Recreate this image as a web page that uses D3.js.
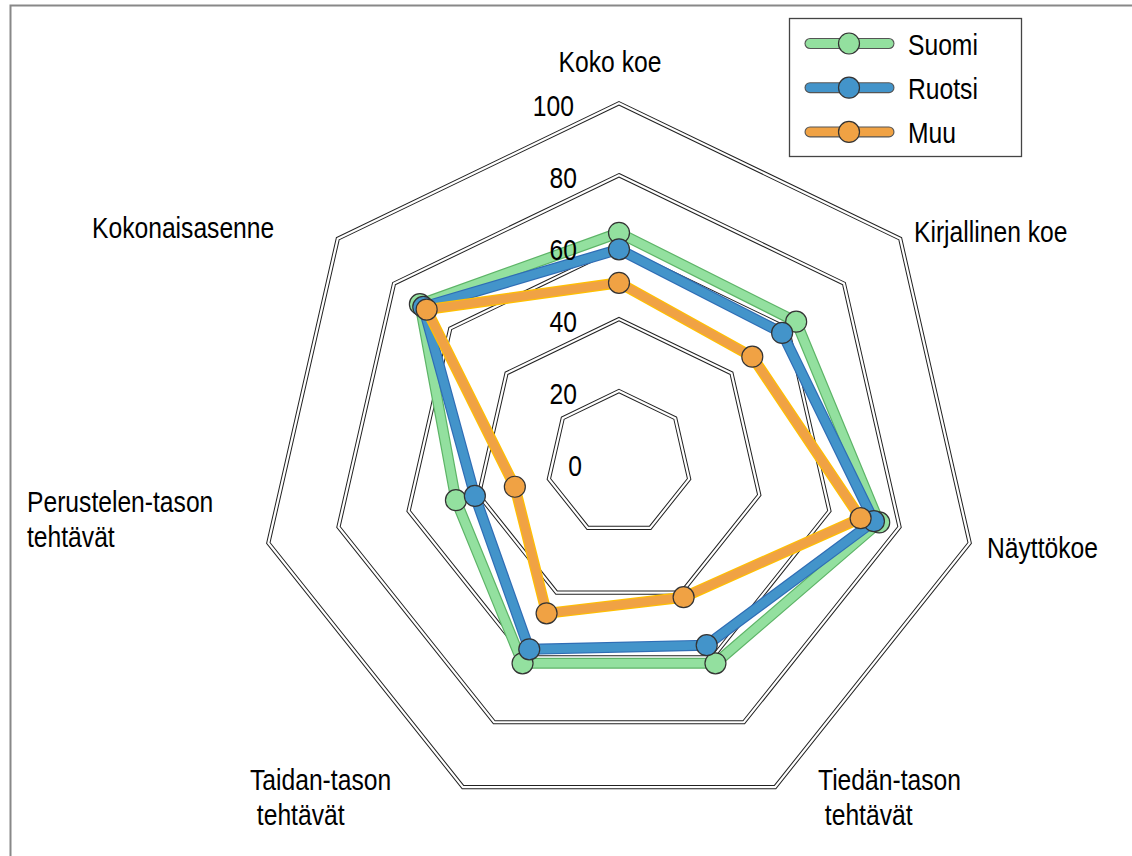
<!DOCTYPE html>
<meta charset="utf-8">
<script src="https://d3js.org/d3.v7.min.js"></script>
<style>
body { margin: 0; background: white; }
text { font-family: "Liberation Sans", Arial, sans-serif; fill: #000; }
</style>
<div id="my_dataviz"></div>
<script>

// axis names (clockwise from top)
var axes = [["Koko koe"], ["Kirjallinen koe"], ["Näyttökoe"], ["Tiedän-tason", " tehtävät"],
            ["Taidan-tason", " tehtävät"], ["Perustelen-tason", "tehtävät"], ["Kokonaisasenne"]];
var seriesNames = ["Suomi", "Ruotsi", "Muu"];
var suomi  = [64.0, 63.0, 74.2, 61.8, 61.8, 46.5, 70.8];
var ruotsi = [59.4, 58.0, 72.7, 56.2, 57.5, 41.1, 69.6];
var muu    = [50.1, 47.4, 68.9, 41.4, 46.4, 29.7, 68.4];
var ticks  = [0, 20, 40, 60, 80, 100];

var width = 1132, height = 856;
var cx = 619, cy = 463;
var squeeze = 0.85;   // the original font is a narrow one

var svg = d3.select("#my_dataviz")
  .append("svg")
    .attr("width", width)
    .attr("height", height);

// outer frame (only top + left visible)
svg.append("rect")
  .attr("x", 10.5).attr("y", 5.5)
  .attr("width", 1200).attr("height", 1000)
  .style("fill", "none").style("stroke", "#888").style("stroke-width", 2);

var r = d3.scaleLinear().domain([0, 100]).range([0, 359.7]);
var angle = d3.scaleLinear().domain([0, axes.length]).range([0, 2 * Math.PI]);

function pt(i, v) {
  var a = angle(i);
  return [cx + r(v) * Math.sin(a), cy - r(v) * Math.cos(a)];
}

// narrow text helper
function narrowText(parent, x, y, anchor, str) {
  return parent.append("text")
    .attr("transform", "translate(" + x + "," + y + ") scale(" + squeeze + ",1)")
    .attr("text-anchor", anchor)
    .style("font-size", "29px")
    .style("white-space", "pre")
    .text(str);
}

var g = svg.append("g");

// grid rings, drawn as double lines
ticks.filter(function(t){ return t > 0; }).forEach(function(t) {
  var pts = axes.map(function(d, i){ return pt(i, t); });
  var line = d3.line().curve(d3.curveLinearClosed);
  g.append("path").attr("d", line(pts))
    .style("fill", "none").style("stroke", "#222").style("stroke-width", 4.2)
    .style("stroke-linejoin", "miter");
  g.append("path").attr("d", line(pts))
    .style("fill", "none").style("stroke", "white").style("stroke-width", 2.2)
    .style("stroke-linejoin", "miter");
});

// axis labels
var labelPos = [[610, 72, "middle"], [914, 242, "start"], [987, 558, "start"], [818, 790, "start"],
                [250, 790, "start"], [27, 512, "start"], [92, 238, "start"]];
var lineGap = [0, 0, 0, 35, 35, 35, 0];
axes.forEach(function(lines, i) {
  lines.forEach(function(s, j) {
    narrowText(svg, labelPos[i][0], labelPos[i][1] + j * lineGap[i], labelPos[i][2], s);
  });
});

// series
var allSeries = [suomi, ruotsi, muu];
var fills = ["#93E09F", "#4394CA", "#F0A244"];
var edges = ["#5DB467", "#2F6DB5", "#FFC000"];

allSeries.forEach(function(vals, s) {
  var pts = vals.map(function(v, i){ return pt(i, v); });
  var line = d3.line().curve(d3.curveLinearClosed);
  g.append("path").attr("d", line(pts))
    .style("fill", "none").style("stroke", edges[s]).style("stroke-width", 11)
    .style("stroke-linejoin", "round");
  g.append("path").attr("d", line(pts))
    .style("fill", "none").style("stroke", fills[s]).style("stroke-width", 8.6)
    .style("stroke-linejoin", "round");
  g.selectAll(".m" + s)
    .data(pts)
    .enter()
    .append("circle")
      .attr("cx", function(d){ return d[0]; })
      .attr("cy", function(d){ return d[1]; })
      .attr("r", 10.5)
      .style("fill", fills[s])
      .style("stroke", "#333")
      .style("stroke-width", 1.2);
});

// tick labels (on top of the series)
ticks.forEach(function(d) {
  var x = d == 0 ? cx - 37 : (d == 100 ? cx - 45 : cx - 42);
  narrowText(g, x, cy - r(d) + 12.5, "end", d);
});

// legend
var lg = svg.append("g");
lg.append("rect")
  .attr("x", 789.5).attr("y", 18.5).attr("width", 232).attr("height", 138)
  .style("fill", "white").style("stroke", "#444").style("stroke-width", 1.3);

seriesNames.forEach(function(name, s) {
  var y = 43.5 + s * 44.2;
  lg.append("line").attr("x1", 810).attr("x2", 889).attr("y1", y).attr("y2", y)
    .style("stroke", "#555").style("stroke-width", 11).style("stroke-linecap", "round");
  lg.append("line").attr("x1", 810).attr("x2", 889).attr("y1", y).attr("y2", y)
    .style("stroke", fills[s]).style("stroke-width", 8.8).style("stroke-linecap", "round");
  lg.append("circle").attr("cx", 849).attr("cy", y).attr("r", 10.5)
    .style("fill", fills[s]).style("stroke", "#333").style("stroke-width", 1.2);
  narrowText(lg, 908, y + 11.5, "start", name);
});

</script>
